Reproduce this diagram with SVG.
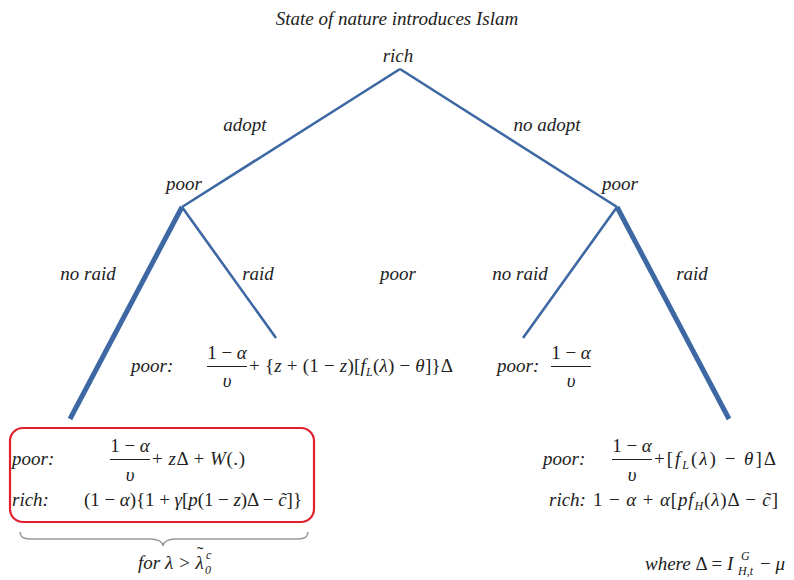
<svg xmlns="http://www.w3.org/2000/svg" width="794" height="580" viewBox="0 0 794 580">
<style>
.t{font-family:"Liberation Serif","Times New Roman",serif;font-style:italic;font-size:19px;fill:#222}
.m{font-family:"Liberation Serif","Times New Roman",serif;font-size:19px;fill:#222}
.i{font-style:italic}
.s{font-size:12px}
.e{stroke:#3d68a3;fill:none;stroke-linecap:butt}
.thin{stroke-width:2.6}
.thick{stroke-width:5}
.fr{stroke:#222;stroke-width:1}
</style>
<rect width="794" height="580" fill="#fff"/>
<text class="t" x="397" y="25" text-anchor="middle" font-size="18.5">State of nature introduces Islam</text>
<g id="edges">
<line class="e thin" x1="400" y1="69" x2="182" y2="207"/>
<line class="e thin" x1="400" y1="69" x2="617" y2="207"/>
<line class="e thick" x1="182" y1="207" x2="70" y2="419"/>
<line class="e thin" x1="182" y1="207" x2="276" y2="338"/>
<line class="e thin" x1="617" y1="207" x2="523" y2="338"/>
<line class="e thick" x1="617" y1="207" x2="729" y2="419"/>
</g>
<g id="root"><text class="t" x="398" y="62" text-anchor="middle">rich</text></g>
<g id="labels">
<text class="t" x="245" y="131" text-anchor="middle">adopt</text>
<text class="t" x="547" y="131" text-anchor="middle">no adopt</text>
<text class="t" x="88" y="280" text-anchor="middle">no raid</text>
<text class="t" x="258" y="280" text-anchor="middle">raid</text>
<text class="t" x="520" y="280" text-anchor="middle">no raid</text>
<text class="t" x="692" y="280" text-anchor="middle">raid</text>
</g>
<g id="poor-left"><text class="t" x="184" y="190" text-anchor="middle">poor</text></g>
<g id="poor-right"><text class="t" x="620" y="190" text-anchor="middle">poor</text></g>
<g id="poor-mid"><text class="t" x="398" y="280" text-anchor="middle">poor</text></g>
<g id="payoff-raid-left">
<text class="t" x="131" y="372">poor:</text>
<text class="m" x="227" y="359" text-anchor="middle">1 − <tspan class="i">α</tspan></text>
<line class="fr" x1="207" y1="366.5" x2="247" y2="366.5"/>
<text class="m i" x="227" y="387" text-anchor="middle">υ</text>
<text class="m" x="249" y="372" textLength="204" lengthAdjust="spacing">+ {<tspan class="i">z</tspan> + (1 − <tspan class="i">z</tspan>)[<tspan class="i">f</tspan><tspan class="i s" dy="4">L</tspan><tspan dy="-4">(</tspan><tspan class="i">λ</tspan>) − <tspan class="i">θ</tspan>]}Δ</text>
</g>
<g id="payoff-noraid-right">
<text class="t" x="497" y="372">poor:</text>
<text class="m" x="571" y="359" text-anchor="middle">1 − <tspan class="i">α</tspan></text>
<line class="fr" x1="551" y1="366.5" x2="591" y2="366.5"/>
<text class="m i" x="571" y="387" text-anchor="middle">υ</text>
</g>
<g id="payoff-left">
<rect x="10" y="428" width="304" height="94" rx="13" fill="none" stroke="#e0202c" stroke-width="2.2"/>
<text class="t" x="12" y="465">poor:</text>
<text class="m" x="130" y="452" text-anchor="middle">1 − <tspan class="i">α</tspan></text>
<line class="fr" x1="110" y1="459.5" x2="150" y2="459.5"/>
<text class="m i" x="130" y="481" text-anchor="middle">υ</text>
<text class="m" x="152" y="465" textLength="93" lengthAdjust="spacing">+ <tspan class="i">z</tspan>Δ + <tspan class="i">W</tspan>(.)</text>
<text class="t" x="12" y="506">rich:</text>
<text class="m" x="84" y="506" textLength="218" lengthAdjust="spacing">(1 − <tspan class="i">α</tspan>){1 + <tspan class="i">γ</tspan>[<tspan class="i">p</tspan>(1 − <tspan class="i">z</tspan>)Δ − <tspan class="i">c̃</tspan>]}</text>
<path d="M20 532 Q20 539 30 539 L150 539 Q162 539 163 546 Q164 539 176 539 L298 539 Q308 539 308 532" fill="none" stroke="#999" stroke-width="1.5"/>
<text class="t" x="138" y="569">for λ &gt; λ</text>
<text class="m" x="197" y="560" font-size="16">˜</text>
<text class="t s" x="205" y="574">0</text>
<text class="t s" x="206" y="559">c</text>
</g>
<g id="payoff-right">
<text class="t" x="543" y="465">poor:</text>
<text class="m" x="632" y="452" text-anchor="middle">1 − <tspan class="i">α</tspan></text>
<line class="fr" x1="612" y1="459.5" x2="652" y2="459.5"/>
<text class="m i" x="632" y="481" text-anchor="middle">υ</text>
<text class="m" x="654" y="465" textLength="122" lengthAdjust="spacing">+[<tspan class="i">f</tspan><tspan class="i s" dy="4">L</tspan><tspan dy="-4">(</tspan><tspan class="i">λ</tspan>) − <tspan class="i">θ</tspan>]Δ</text>
<text class="t" x="549" y="506">rich:</text>
<text class="m" x="593" y="506" textLength="185" lengthAdjust="spacing">1 − <tspan class="i">α</tspan> + <tspan class="i">α</tspan>[<tspan class="i">pf</tspan><tspan class="i s" dy="4">H</tspan><tspan dy="-4">(</tspan><tspan class="i">λ</tspan>)Δ − <tspan class="i">c̃</tspan>]</text>
</g>
<g id="note">
<text class="m" x="645" y="570"><tspan class="i">where</tspan> Δ = <tspan class="i">I</tspan></text>
<text class="m i s" x="738" y="575">H,t</text>
<text class="m i s" x="741" y="560">G</text>
<text class="m" x="760" y="570">− <tspan class="i">μ</tspan></text>
</g>
</svg>
